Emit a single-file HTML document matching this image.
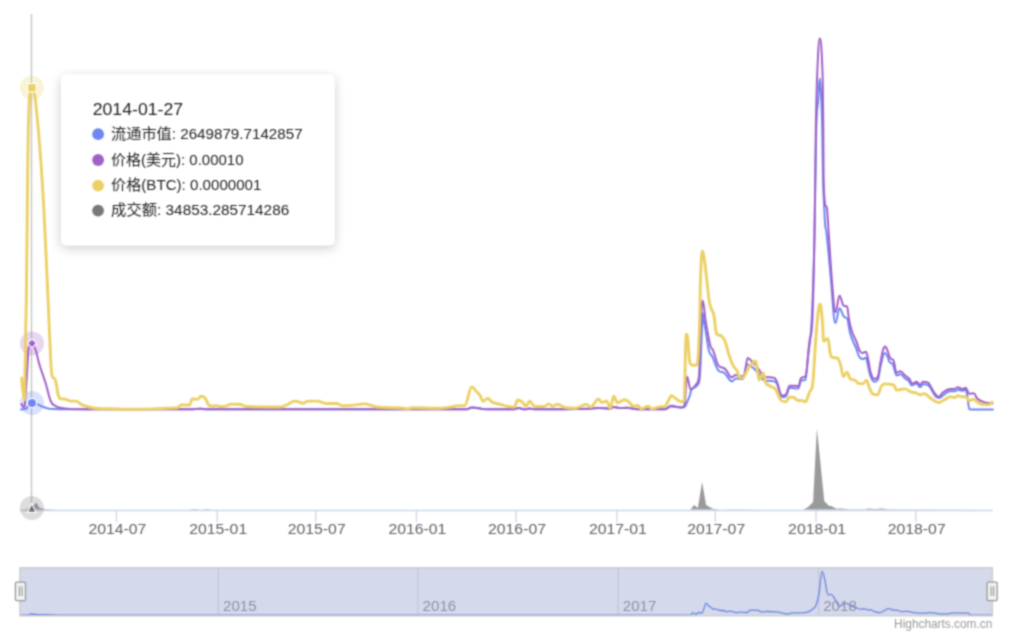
<!DOCTYPE html>
<html><head><meta charset="utf-8"><title>chart</title>
<style>html,body{margin:0;padding:0;background:#fff;overflow:hidden}
svg{display:block;font-family:"Liberation Sans", "Noto Sans CJK SC", sans-serif}
</style></head><body>
<svg width="1009" height="637" viewBox="0 0 1009 637">
<defs><filter id="gb" x="0" y="0" width="1009" height="637" filterUnits="userSpaceOnUse" color-interpolation-filters="sRGB"><feConvolveMatrix order="5" kernelMatrix="0.00023 0.00332 0.00809 0.00332 0.00023 0.00332 0.04785 0.11640 0.04785 0.00332 0.00809 0.11640 0.28313 0.11640 0.00809 0.00332 0.04785 0.11640 0.04785 0.00332 0.00023 0.00332 0.00809 0.00332 0.00023" divisor="1" edgeMode="duplicate" preserveAlpha="false"/></filter>
<filter id="sh" x="-20%" y="-20%" width="140%" height="140%"><feGaussianBlur in="SourceAlpha" stdDeviation="6"/><feOffset dx="0" dy="2.5" result="b"/><feComponentTransfer><feFuncA type="linear" slope="0.2"/></feComponentTransfer><feMerge><feMergeNode/><feMergeNode in="SourceGraphic"/></feMerge></filter></defs>
<g filter="url(#gb)"><rect width="1009" height="637" fill="#fff"/>
<path d="M20 510.5H993" stroke="#ccd6eb" stroke-width="1.3" fill="none"/>
<path d="M116.4 510.5V522.3" stroke="#ccd6eb" stroke-width="1.3"/>
<text x="117.4" y="533.6" text-anchor="middle" font-size="14.6" fill="#606060" textLength="58" lengthAdjust="spacingAndGlyphs">2014-07</text>
<path d="M217.2 510.5V522.3" stroke="#ccd6eb" stroke-width="1.3"/>
<text x="218.2" y="533.6" text-anchor="middle" font-size="14.6" fill="#606060" textLength="58" lengthAdjust="spacingAndGlyphs">2015-01</text>
<path d="M315.7 510.5V522.3" stroke="#ccd6eb" stroke-width="1.3"/>
<text x="316.7" y="533.6" text-anchor="middle" font-size="14.6" fill="#606060" textLength="58" lengthAdjust="spacingAndGlyphs">2015-07</text>
<path d="M416.4 510.5V522.3" stroke="#ccd6eb" stroke-width="1.3"/>
<text x="417.4" y="533.6" text-anchor="middle" font-size="14.6" fill="#606060" textLength="58" lengthAdjust="spacingAndGlyphs">2016-01</text>
<path d="M516.0 510.5V522.3" stroke="#ccd6eb" stroke-width="1.3"/>
<text x="517.0" y="533.6" text-anchor="middle" font-size="14.6" fill="#606060" textLength="58" lengthAdjust="spacingAndGlyphs">2016-07</text>
<path d="M616.9 510.5V522.3" stroke="#ccd6eb" stroke-width="1.3"/>
<text x="617.9" y="533.6" text-anchor="middle" font-size="14.6" fill="#606060" textLength="58" lengthAdjust="spacingAndGlyphs">2017-01</text>
<path d="M715.2 510.5V522.3" stroke="#ccd6eb" stroke-width="1.3"/>
<text x="716.2" y="533.6" text-anchor="middle" font-size="14.6" fill="#606060" textLength="58" lengthAdjust="spacingAndGlyphs">2017-07</text>
<path d="M816.1 510.5V522.3" stroke="#ccd6eb" stroke-width="1.3"/>
<text x="817.1" y="533.6" text-anchor="middle" font-size="14.6" fill="#606060" textLength="58" lengthAdjust="spacingAndGlyphs">2018-01</text>
<path d="M915.7 510.5V522.3" stroke="#ccd6eb" stroke-width="1.3"/>
<text x="916.7" y="533.6" text-anchor="middle" font-size="14.6" fill="#606060" textLength="58" lengthAdjust="spacingAndGlyphs">2018-07</text>
<path d="M31.5 14V510" stroke="#c0c0c0" stroke-width="1.3" fill="none"/>
<path d="M20.0 509.6L25.0 509.2L28.0 508.5L31.7 507.0L33.5 505.5L36.3 502.4L39.3 507.8L45.0 509.0L50.0 509.3L60.0 509.6L188.0 509.6L195.0 509.1L201.0 509.4L207.0 509.1L212.0 509.6L690.4 509.6L694.2 505.1L697.9 508.0L702.1 481.9L706.1 505.1L712.8 508.8L720.0 509.4L736.7 509.2L760.0 509.6L803.4 509.6L807.9 507.3L813.1 502.1L816.9 428.2L824.3 501.3L828.8 505.8L831.8 506.3L836.3 508.8L840.7 508.4L850.0 509.3L865.0 509.3L869.1 508.4L875.0 509.1L882.0 508.5L888.0 509.3L993.0 509.6 L993 509.6 L20 509.6Z" fill="#9a9a9a" stroke="none"/>
<circle cx="32.0" cy="403.0" r="12" fill="#6e86f2" fill-opacity="0.25"/>
<circle cx="32.0" cy="343.4" r="12" fill="#a060c8" fill-opacity="0.25"/>
<circle cx="31.9" cy="87.8" r="12" fill="#ecd064" fill-opacity="0.25"/>
<circle cx="31.9" cy="508" r="12" fill="#787878" fill-opacity="0.25"/>
<path d="M21.0 409.4C21.0 409.4 24.2 409.4 26.3 408.8C26.8 408.2 27.0 407.5 27.5 407.0C29.3 405.2 30.2 403.0 32.0 403.0C32.8 403.0 33.2 403.3 34.0 403.5C35.7 403.9 36.5 404.0 38.2 404.6C40.3 405.4 41.4 406.2 43.5 407.0C45.9 407.9 47.1 408.4 49.5 408.8C53.5 409.2 55.6 409.2 59.6 409.2C63.8 409.2 65.8 409.2 70.0 409.2C82.0 409.2 88.0 409.2 100.0 409.2C124.0 409.2 136.0 409.3 160.0 409.3C172.4 409.3 178.6 409.3 191.0 409.3C194.6 409.3 196.4 408.8 200.0 408.8C202.8 408.8 204.2 409.3 207.0 409.3C311.0 409.3 363.0 409.3 467.0 409.3C468.9 409.3 469.9 407.4 471.8 407.4C473.1 407.4 473.7 407.5 475.0 407.7C477.8 408.1 479.3 408.5 482.1 408.9C494.9 409.3 501.4 409.3 514.2 409.3C515.9 409.3 516.7 408.1 518.4 408.1C521.0 408.1 522.4 409.3 525.0 409.3C526.9 409.3 527.8 408.6 529.7 408.6C531.4 408.6 532.3 409.2 534.0 409.2C556.4 409.2 567.6 409.2 590.0 408.7C593.3 408.6 595.0 407.9 598.3 407.9C603.1 407.9 605.4 408.7 610.2 408.7C611.6 408.7 612.4 406.9 613.8 406.9C616.3 406.9 617.5 408.0 620.0 408.0C622.8 408.0 624.2 407.8 627.0 407.8C631.2 407.8 633.4 409.2 637.6 409.2C648.6 409.2 654.0 409.2 665.0 409.2C667.4 409.2 668.5 406.5 670.9 406.5C675.6 406.5 678.0 407.5 682.7 407.5C683.5 407.5 683.8 407.5 684.6 406.9C685.8 406.3 686.4 403.6 687.6 401.0C688.6 398.9 689.0 398.0 690.0 395.0C690.4 393.6 690.7 390.8 691.1 390.2C693.7 386.7 695.0 388.6 697.6 384.9C698.4 383.7 698.9 384.9 699.7 377.9C700.4 370.9 700.8 356.1 701.5 340.0C701.9 330.2 702.2 313.2 702.6 313.2C703.2 313.2 703.4 318.7 704.0 322.0C704.8 326.7 705.2 328.4 706.0 333.0C707.2 339.7 707.7 346.1 708.9 350.4C710.3 355.6 711.0 353.8 712.4 356.7C715.0 362.0 716.2 368.6 718.8 370.8C721.0 373.0 722.2 371.2 724.4 373.0C727.5 375.5 729.1 381.4 732.2 381.4C733.6 381.4 734.3 378.6 735.7 378.6C738.5 378.6 740.0 379.0 742.8 379.0C744.5 379.0 745.3 364.5 747.0 364.5C749.8 364.5 751.3 366.5 754.1 368.7C755.7 369.9 756.4 371.3 758.0 373.0C761.0 376.1 762.4 380.7 765.4 380.7C767.2 380.7 768.2 380.7 770.0 380.7C771.6 380.7 772.3 380.9 773.9 381.4C774.7 381.7 775.2 381.4 776.0 382.5C778.4 383.6 779.6 397.0 782.0 397.0C783.4 397.0 784.1 397.0 785.5 396.5C787.2 396.0 788.1 387.8 789.8 387.8C793.2 387.8 794.8 388.5 798.2 388.5C799.4 388.5 799.9 381.4 801.1 380.7C802.8 380.0 803.6 380.7 805.3 380.0C806.4 379.3 807.0 365.8 808.1 355.3C809.5 341.8 810.3 347.1 811.7 320.0C812.8 298.9 813.4 282.1 814.5 234.8C815.2 206.1 815.5 154.8 816.2 130.0C817.0 100.9 817.4 111.4 818.2 100.0C818.8 90.9 819.2 78.6 819.8 78.6C820.4 78.6 820.7 87.7 821.3 100.0C821.7 108.2 821.9 112.0 822.3 130.0C822.6 142.6 822.7 164.7 823.0 176.7C823.4 193.8 823.6 193.9 824.0 202.6C824.5 213.9 824.8 221.8 825.3 226.7C825.7 231.6 826.0 227.6 826.4 231.6C828.0 246.6 828.9 257.7 830.5 274.4C832.5 294.3 833.4 323.0 835.4 323.0C837.0 323.0 837.9 308.2 839.5 308.2C841.2 308.2 842.0 314.1 843.7 316.4C845.3 318.7 846.2 316.4 847.8 319.7C848.4 323.0 848.8 327.1 849.4 330.0C850.4 334.6 850.9 335.7 851.9 338.4C853.5 342.9 854.4 344.1 856.0 348.0C857.6 351.8 858.4 356.4 860.0 357.7C861.2 359.0 861.7 359.0 862.9 359.0C864.1 359.0 864.7 357.7 865.9 357.7C866.7 357.7 867.2 362.6 868.0 366.0C869.0 370.2 869.6 373.8 870.6 376.5C872.0 380.1 872.7 381.8 874.1 381.8C875.5 381.8 876.3 381.8 877.7 380.0C878.9 378.2 879.4 370.5 880.6 366.0C882.2 359.7 883.1 353.0 884.7 353.0C885.9 353.0 886.5 354.8 887.7 357.0C888.4 358.3 888.7 360.8 889.4 361.8C890.8 363.9 891.6 362.0 893.0 364.7C894.4 367.4 895.1 375.3 896.5 375.3C898.1 375.3 899.0 374.2 900.6 374.2C902.3 374.2 903.1 376.9 904.8 378.3C906.4 379.6 907.3 379.3 908.9 381.0C910.1 382.2 910.6 385.4 911.8 385.4C913.7 385.4 914.6 383.6 916.5 383.6C917.9 383.6 918.7 387.1 920.1 387.1C921.3 387.1 921.8 384.2 923.0 384.2C924.9 384.2 925.8 384.2 927.7 384.8C928.9 385.4 929.5 386.6 930.7 388.3C933.1 391.6 934.2 396.3 936.6 397.1C937.5 397.9 937.9 397.9 938.8 397.9C940.9 397.9 941.9 395.9 944.0 394.6C946.3 393.2 947.5 391.2 949.8 391.2C951.8 391.2 952.7 391.2 954.7 391.2C956.0 391.2 956.6 389.8 957.9 389.8C959.7 389.8 960.7 390.8 962.5 390.8C963.6 390.8 964.2 389.8 965.3 389.8C966.0 389.8 966.4 391.3 967.1 394.7C968.1 399.2 968.5 409.5 969.5 409.5C978.9 409.5 992.9 409.5 992.9 409.5" stroke="#6e86f2" stroke-width="2.0" fill="none" stroke-linejoin="round" stroke-linecap="round"/>
<path d="M21.5 404.0C21.5 404.0 23.2 407.3 24.3 407.3C24.7 407.3 24.8 404.6 25.2 400.0C26.0 389.7 26.4 382.9 27.2 370.0C27.6 362.9 27.9 356.6 28.3 350.0C29.8 343.4 30.5 343.4 32.0 343.4C33.0 343.4 33.4 345.2 34.4 347.1C35.2 348.6 35.5 349.4 36.3 352.0C37.1 354.6 37.4 357.1 38.2 360.0C39.2 363.6 39.6 365.3 40.6 368.3C41.8 372.0 42.3 373.2 43.5 376.7C44.6 379.9 45.1 381.3 46.2 385.0C47.0 387.9 47.5 390.2 48.3 393.3C49.1 396.4 49.6 398.3 50.4 400.4C51.2 402.5 51.7 403.1 52.5 404.0C53.7 405.3 54.2 405.2 55.4 405.8C56.8 406.6 57.6 407.3 59.0 407.6C63.4 408.6 65.6 408.8 70.0 409.0C82.0 409.2 88.0 409.2 100.0 409.2C124.0 409.3 136.0 409.3 160.0 409.3C172.4 409.3 178.6 409.3 191.0 409.3C194.6 409.3 196.4 408.8 200.0 408.8C202.8 408.8 204.2 409.3 207.0 409.3C311.0 409.3 363.0 409.3 467.0 409.3C468.9 409.3 469.9 407.4 471.8 407.4C473.1 407.4 473.7 407.5 475.0 407.7C477.8 408.1 479.3 408.5 482.1 408.9C494.9 409.3 501.4 409.3 514.2 409.3C515.9 409.3 516.7 408.1 518.4 408.1C521.0 408.1 522.4 409.3 525.0 409.3C526.9 409.3 527.8 408.6 529.7 408.6C531.4 408.6 532.3 409.2 534.0 409.2C556.4 409.2 567.6 409.2 590.0 408.7C593.3 408.6 595.0 407.9 598.3 407.9C603.1 407.9 605.4 408.7 610.2 408.7C611.6 408.7 612.4 406.9 613.8 406.9C616.3 406.9 617.5 408.0 620.0 408.0C622.8 408.0 624.2 407.8 627.0 407.8C631.2 407.8 633.4 409.2 637.6 409.2C648.6 409.2 654.0 409.2 665.0 409.2C667.4 409.2 668.5 405.7 670.9 405.7C675.2 405.7 677.3 407.5 681.6 407.5C682.6 407.5 683.0 407.5 684.0 406.6C684.4 405.7 684.5 405.5 684.9 401.9C685.7 393.5 686.2 376.5 687.0 376.5C688.4 376.5 689.1 389.2 690.5 389.2C692.8 389.2 693.9 387.7 696.2 384.3C697.3 382.6 697.9 384.3 699.0 376.5C699.8 368.7 700.1 335.2 700.9 320.0C701.7 304.8 702.0 300.7 702.8 300.7C703.9 300.7 704.4 313.6 705.5 320.0C707.4 331.4 708.4 337.7 710.3 345.4C711.4 349.9 712.0 347.7 713.1 350.4C715.4 355.9 716.5 363.8 718.8 365.9C720.8 368.0 721.7 366.9 723.7 368.0C724.6 368.5 725.1 368.9 726.0 370.0C728.2 372.6 729.3 377.2 731.5 377.2C733.2 377.2 734.0 375.1 735.7 375.1C737.7 375.1 738.7 376.5 740.7 376.5C742.1 376.5 742.8 376.5 744.2 375.1C745.6 373.7 746.3 358.1 747.7 358.1C749.7 358.1 750.7 360.6 752.7 362.4C754.4 364.0 755.2 364.4 756.9 366.6C759.2 369.5 760.3 372.7 762.6 375.1C764.3 376.9 765.1 377.2 766.8 377.2C768.1 377.2 768.7 377.2 770.0 377.2C771.6 377.2 772.3 377.3 773.9 377.9C774.6 378.2 774.9 377.9 775.6 379.3C778.2 380.7 779.4 395.6 782.0 395.6C783.4 395.6 784.1 395.6 785.5 394.9C787.2 394.2 788.1 385.7 789.8 385.7C791.9 385.7 792.9 385.7 795.0 385.7C796.3 385.7 796.9 386.4 798.2 386.4C799.4 386.4 799.9 379.3 801.1 377.9C802.8 376.5 803.6 377.9 805.3 376.5C807.0 375.1 807.8 354.6 809.5 341.2C810.7 332.0 811.2 341.2 812.4 320.0C813.2 298.8 813.7 281.7 814.5 234.8C815.0 205.7 815.3 160.2 815.8 130.0C816.4 95.1 816.7 85.7 817.3 72.0C818.3 49.2 818.8 38.6 819.8 38.6C820.9 38.6 821.4 43.8 822.5 72.0C822.8 80.4 823.0 99.5 823.3 130.0C823.4 141.4 823.5 170.9 823.6 176.7C824.1 199.9 824.3 195.7 824.8 202.6C825.7 209.5 826.2 202.6 827.1 209.5C827.8 216.4 828.1 224.8 828.8 234.8C830.1 254.1 830.8 267.2 832.1 282.7C833.4 298.2 834.1 312.3 835.4 312.3C837.0 312.3 837.9 295.8 839.5 295.8C841.2 295.8 842.0 304.9 843.7 305.7C845.0 306.5 845.7 305.7 847.0 306.5C847.8 307.3 848.3 315.7 849.1 320.0C850.2 325.7 850.8 328.0 851.9 331.3C853.6 336.4 854.5 337.0 856.2 341.2C857.7 344.9 858.5 349.4 860.0 351.2C861.2 353.0 861.7 353.0 862.9 353.0C864.1 353.0 864.7 351.8 865.9 351.8C866.8 351.8 867.3 355.4 868.2 359.4C869.2 363.6 869.6 369.2 870.6 372.4C872.0 377.0 872.7 378.9 874.1 378.9C875.5 378.9 876.3 378.9 877.7 377.1C878.9 375.3 879.4 367.7 880.6 361.8C881.6 356.9 882.0 353.1 883.0 350.0C883.9 347.0 884.4 346.5 885.3 346.5C886.3 346.5 886.7 348.9 887.7 351.2C888.6 353.4 889.1 356.2 890.0 357.7C891.4 360.0 892.2 357.7 893.6 360.6C894.8 363.5 895.3 372.4 896.5 372.4C898.1 372.4 899.0 371.2 900.6 371.2C902.3 371.2 903.1 373.9 904.8 375.3C906.4 376.7 907.3 376.5 908.9 378.3C910.3 379.8 911.0 383.6 912.4 383.6C914.0 383.6 914.9 381.8 916.5 381.8C917.9 381.8 918.7 384.8 920.1 384.8C921.3 384.8 921.8 381.8 923.0 381.8C924.9 381.8 925.8 381.8 927.7 382.4C928.9 383.0 929.5 384.6 930.7 386.5C932.1 388.7 932.8 390.8 934.2 392.6C936.0 394.9 937.0 396.8 938.8 396.8C940.4 396.8 941.1 393.7 942.7 392.6C945.5 390.6 947.0 389.5 949.8 389.1C951.8 388.7 952.7 389.1 954.7 388.7C956.0 388.3 956.6 387.3 957.9 387.3C959.7 387.3 960.7 389.1 962.5 389.1C963.8 389.1 964.4 387.7 965.7 387.7C967.1 387.7 967.8 393.7 969.2 393.7C971.0 393.7 972.0 393.3 973.8 393.3C975.2 393.3 975.9 397.5 977.3 398.6C980.4 401.1 982.0 401.3 985.1 402.5C986.8 403.1 987.6 403.0 989.3 403.2C990.6 403.4 992.5 403.5 992.5 403.5" stroke="#a060c8" stroke-width="2.0" fill="none" stroke-linejoin="round" stroke-linecap="round"/>
<path d="M21.6 378.0C21.6 378.0 23.3 400.0 24.5 400.0C24.7 400.0 24.8 381.1 25.0 370.0C25.5 341.1 25.8 333.4 26.3 300.0C26.5 284.6 26.7 270.3 26.9 248.0C27.2 221.9 27.3 203.3 27.6 179.0C27.8 158.1 28.0 148.2 28.2 135.0C28.4 121.8 28.6 119.7 28.8 113.0C29.1 104.1 29.3 98.6 29.6 96.0C30.5 88.5 31.0 87.8 31.9 87.8C33.0 87.8 33.5 88.3 34.6 94.0C35.5 98.7 35.9 105.2 36.8 113.8C37.6 121.6 38.0 125.4 38.8 135.0C39.8 146.5 40.2 152.7 41.2 166.4C42.0 177.8 42.4 183.7 43.2 197.8C44.0 211.2 44.3 219.2 45.1 235.0C46.2 258.4 46.8 270.8 47.9 295.8C49.0 320.8 49.6 337.7 50.7 360.0C51.2 369.6 51.4 370.8 51.9 375.5C53.3 380.2 54.0 375.8 55.4 380.2C56.6 383.9 57.2 391.1 58.4 395.7C59.1 398.5 59.5 397.9 60.2 398.6C62.6 399.3 63.7 398.7 66.1 399.3C68.0 399.7 69.0 401.1 70.9 401.1C72.8 401.1 73.7 401.1 75.6 401.1C78.0 401.1 79.2 403.5 81.6 404.6C84.4 405.9 85.9 406.3 88.7 407.0C92.5 407.9 94.4 408.2 98.2 408.5C102.9 408.8 105.3 408.7 110.0 408.8C118.0 409.0 122.0 409.2 130.0 409.2C139.5 409.2 144.3 409.2 153.8 408.9C158.6 408.8 160.9 408.4 165.7 408.2C170.5 408.0 172.8 408.2 177.6 407.8C179.0 407.4 179.7 405.0 181.1 405.0C184.5 405.0 186.1 405.0 189.5 405.0C190.7 405.0 191.2 398.7 192.4 398.7C194.3 398.7 195.3 399.4 197.2 399.4C198.8 399.4 199.7 396.3 201.3 396.3C202.7 396.3 203.5 396.3 204.9 397.9C206.6 399.5 207.4 404.6 209.1 405.4C210.7 406.2 211.6 406.2 213.2 406.2C214.6 406.2 215.4 405.6 216.8 405.6C218.2 405.6 219.0 406.6 220.4 406.6C223.2 406.6 224.7 406.3 227.5 405.6C228.9 405.3 229.7 404.1 231.1 404.1C234.4 404.1 236.1 404.1 239.4 404.2C241.8 404.3 242.9 405.6 245.3 406.2C249.9 406.8 252.3 406.6 256.9 406.8C266.4 407.0 271.2 407.0 280.7 407.0C283.1 407.0 284.2 406.0 286.6 405.0C290.0 403.6 291.6 401.1 295.0 401.1C298.3 401.1 300.0 403.2 303.3 403.2C305.2 403.2 306.1 401.1 308.0 401.1C311.8 401.1 313.7 401.1 317.5 401.1C320.9 401.1 322.5 403.5 325.9 403.5C330.2 403.5 332.3 403.5 336.6 403.5C339.0 403.5 340.1 405.8 342.5 405.8C346.3 405.8 348.2 405.7 352.0 405.4C354.8 405.2 356.3 404.7 359.1 404.4C361.4 404.1 362.5 403.9 364.8 403.9C366.7 403.9 367.6 404.3 369.5 404.8C371.9 405.5 373.1 406.3 375.5 406.8C378.8 407.4 380.5 407.3 383.8 407.5C390.9 407.8 394.5 407.6 401.6 408.0C404.0 408.1 405.2 408.9 407.6 408.9C409.5 408.9 410.4 407.7 412.3 407.7C422.3 407.7 427.3 408.3 437.3 408.3C443.5 408.3 446.5 407.6 452.7 406.8C454.6 406.5 455.6 405.6 457.5 405.6C460.3 405.6 461.8 405.6 464.6 405.6C467.5 405.6 468.9 386.9 471.8 386.9C473.7 386.9 474.6 389.7 476.5 391.7C477.8 393.1 478.5 393.4 479.8 395.2C481.2 397.2 481.9 401.2 483.3 401.2C485.0 401.2 485.8 398.5 487.5 398.5C489.6 398.5 490.7 401.5 492.8 402.4C496.6 404.0 498.5 403.8 502.3 404.8C504.2 405.3 505.2 405.9 507.1 406.3C509.9 406.8 511.4 407.1 514.2 407.1C515.6 407.1 516.4 400.0 517.8 400.0C519.5 400.0 520.3 400.6 522.0 401.8C523.6 403.0 524.5 406.0 526.1 406.0C527.5 406.0 528.3 401.2 529.7 401.2C531.6 401.2 532.6 406.0 534.5 406.3C538.3 406.6 540.2 406.6 544.0 406.6C545.9 406.6 546.8 403.9 548.7 403.9C550.4 403.9 551.2 406.3 552.9 406.3C554.5 406.3 555.4 404.2 557.0 404.2C558.9 404.2 559.9 405.2 561.8 406.0C563.2 406.6 564.0 407.2 565.4 407.5C569.2 408.2 571.1 408.3 574.9 408.3C576.8 408.3 577.7 407.4 579.6 406.8C582.2 405.9 583.6 404.4 586.2 404.4C588.1 404.4 589.0 407.1 590.9 407.1C592.5 407.1 593.2 404.4 594.8 402.7C596.2 401.1 596.9 398.9 598.3 398.9C599.7 398.9 600.5 402.5 601.9 402.5C603.8 402.5 604.7 401.0 606.6 401.0C608.0 401.0 608.8 408.1 610.2 408.1C611.6 408.1 612.4 396.2 613.8 396.2C615.2 396.2 615.9 402.7 617.3 402.7C620.2 402.7 621.6 399.8 624.5 399.8C625.9 399.8 626.6 400.3 628.0 401.3C630.4 402.9 631.6 406.3 634.0 406.3C635.4 406.3 636.2 405.4 637.6 405.4C639.0 405.4 639.7 408.7 641.1 408.7C644.0 408.7 645.4 406.3 648.3 406.3C649.7 406.3 650.4 408.9 651.8 408.9C654.7 408.9 656.1 407.5 659.0 406.9C661.4 406.4 662.5 406.9 664.9 406.3C666.1 405.7 666.8 403.6 668.0 401.6C669.4 399.3 670.1 395.6 671.5 395.6C673.2 395.6 674.0 397.6 675.7 398.6C678.1 400.0 679.2 401.8 681.6 401.8C682.6 401.8 683.0 401.8 684.0 400.8C684.9 399.8 685.4 334.1 686.3 334.1C686.9 334.1 687.1 334.1 687.7 338.4C688.5 342.7 689.0 359.6 689.8 362.4C691.0 365.2 691.5 365.2 692.7 365.2C694.1 365.2 694.8 365.2 696.2 365.2C697.0 365.2 697.5 365.2 698.3 355.3C698.9 345.4 699.1 339.4 699.7 320.0C700.0 310.3 700.1 290.1 700.4 282.4C701.1 262.6 701.5 251.3 702.2 251.3C703.2 251.3 703.6 254.7 704.6 261.2C705.9 270.2 706.6 278.8 707.9 290.0C708.5 295.4 708.9 299.1 709.5 302.6C710.2 306.6 710.6 306.8 711.3 308.8C712.3 311.8 712.9 310.1 713.9 315.1C714.6 318.6 715.0 324.7 715.7 330.0C716.0 332.3 716.2 332.0 716.5 334.1C718.5 336.2 719.6 334.5 721.6 336.2C723.0 337.4 723.7 337.7 725.1 341.2C726.5 344.8 727.3 349.5 728.7 353.9C730.4 359.1 731.2 361.8 732.9 365.2C734.6 368.6 735.4 367.7 737.1 370.8C738.0 372.5 738.4 376.5 739.3 377.2C740.7 377.9 741.4 377.9 742.8 377.9C743.9 377.9 744.5 375.7 745.6 373.7C746.7 371.7 747.3 369.7 748.4 368.0C749.8 365.8 750.6 365.2 752.0 363.8C753.4 362.4 754.1 361.0 755.5 361.0C756.1 361.0 756.3 363.6 756.9 366.6C757.7 371.2 758.2 380.0 759.0 380.0C759.9 380.0 760.3 377.9 761.2 376.5C762.0 375.1 762.5 373.0 763.3 373.0C764.1 373.0 764.6 380.0 765.4 382.1C766.5 384.8 767.1 384.2 768.2 385.0C770.5 386.5 771.6 386.5 773.9 387.8C774.6 388.2 774.9 388.0 775.6 389.2C777.9 393.1 779.0 399.1 781.3 400.5C783.0 401.9 783.8 401.9 785.5 401.9C787.2 401.9 788.1 397.0 789.8 397.0C791.5 397.0 792.3 397.0 794.0 397.7C795.7 398.4 796.5 400.5 798.2 400.5C799.7 400.5 800.5 400.5 802.0 400.5C803.3 400.5 804.0 401.9 805.3 401.9C807.0 401.9 807.8 395.7 809.5 392.0C810.7 389.5 811.2 392.0 812.4 386.4C813.5 380.8 814.1 363.4 815.2 348.2C816.0 336.8 816.5 327.6 817.3 320.0C818.4 309.9 819.0 304.1 820.1 304.1C821.0 304.1 821.4 310.9 822.3 320.0C822.9 325.8 823.1 341.2 823.7 341.2C825.4 341.2 826.2 338.4 827.9 338.4C829.0 338.4 829.6 353.2 830.7 355.3C831.3 357.4 831.5 356.7 832.1 357.4C834.4 358.1 835.5 357.4 837.8 358.1C838.9 358.8 839.5 361.5 840.6 365.2C841.7 368.9 842.3 376.5 843.4 376.5C844.8 376.5 845.6 372.3 847.0 372.3C848.4 372.3 849.1 378.6 850.5 379.3C852.2 380.0 853.0 379.3 854.7 380.0C856.4 380.7 857.3 383.6 859.0 383.6C860.7 383.6 861.5 383.6 863.2 383.6C864.5 383.6 865.2 380.1 866.5 380.1C867.7 380.1 868.2 385.2 869.4 387.7C870.8 390.8 871.6 393.6 873.0 394.2C874.9 394.8 875.8 394.8 877.7 394.8C879.1 394.8 879.8 388.7 881.2 386.5C882.6 384.3 883.3 383.9 884.7 383.9C887.1 383.9 888.2 384.0 890.6 384.4C892.0 384.6 892.8 384.4 894.2 385.4C895.1 386.4 895.6 390.1 896.5 390.1C899.8 390.1 901.5 388.9 904.8 388.9C907.1 388.9 908.3 391.0 910.6 391.8C913.0 392.6 914.1 392.3 916.5 393.0C917.9 393.5 918.7 394.8 920.1 394.8C921.7 394.8 922.6 393.6 924.2 393.6C926.8 393.6 928.1 396.7 930.7 398.3C933.9 400.3 935.6 402.5 938.8 402.5C940.9 402.5 942.0 401.0 944.1 400.0C946.7 398.8 947.9 396.8 950.5 396.8C952.2 396.8 953.0 397.5 954.7 397.5C956.1 397.5 956.8 395.8 958.2 395.8C959.9 395.8 960.8 396.8 962.5 396.8C963.8 396.8 964.4 396.8 965.7 396.8C967.1 396.8 967.8 400.7 969.2 400.7C970.9 400.7 971.7 399.3 973.4 399.3C975.2 399.3 976.2 401.6 978.0 402.5C980.3 403.7 981.4 404.6 983.7 404.6C985.9 404.6 987.1 404.6 989.3 404.6C990.4 404.6 992.1 402.1 992.1 402.1" stroke="#ecd064" stroke-width="2.9" fill="none" stroke-linejoin="round" stroke-linecap="round"/>
<circle cx="32.0" cy="403.0" r="4.6" fill="#6e86f2" stroke="#fff" stroke-width="1.2"/>
<path d="M32 338.8L36.6 343.4L32 348L27.4 343.4Z" fill="#a060c8" stroke="#fff" stroke-width="1.2"/>
<rect x="27.6" y="83.5" width="8.6" height="8.6" fill="#ecd064" stroke="#fff" stroke-width="1.2"/>
<path d="M31.8 503.6L36.2 512.4L27.4 512.4Z" fill="#6e6e6e" stroke="#fff" stroke-width="1.2"/>
<rect x="19.9" y="567.5" width="972.5" height="48.2" fill="#fff"/>
<path d="M218.4 567.5V615.7" stroke="#e6e6e6" stroke-width="1.3"/>
<path d="M418.0 567.5V615.7" stroke="#e6e6e6" stroke-width="1.3"/>
<path d="M618.2 567.5V615.7" stroke="#e6e6e6" stroke-width="1.3"/>
<path d="M818.6 567.5V615.7" stroke="#e6e6e6" stroke-width="1.3"/>
<path d="M20.0 615.2C20.0 615.2 24.8 615.2 28.0 615.0C29.4 614.8 30.1 614.0 31.5 614.0C34.9 614.0 36.6 614.5 40.0 614.6C48.0 614.9 52.0 615.1 60.0 615.1C308.0 615.1 432.0 615.1 680.0 615.1C684.4 615.1 686.6 615.1 691.0 614.8C691.7 614.5 692.1 612.6 692.8 612.6C693.9 612.6 694.4 614.1 695.5 614.1C696.9 614.1 697.6 612.6 699.0 612.6C700.2 612.6 700.8 612.9 702.0 612.9C702.7 612.9 703.1 610.7 703.8 609.0C704.8 606.8 705.2 603.1 706.2 603.1C707.1 603.1 707.6 604.9 708.5 605.8C709.2 606.5 709.6 606.4 710.3 606.9C711.3 607.6 711.7 608.7 712.7 609.0C714.4 609.3 715.2 609.0 716.9 609.3C718.3 609.6 719.0 610.5 720.4 610.5C721.6 610.5 722.2 610.5 723.4 610.5C724.6 610.5 725.2 611.7 726.4 611.7C727.8 611.7 728.5 611.1 729.9 611.1C732.5 611.1 733.9 612.6 736.5 612.6C737.9 612.6 738.6 612.2 740.0 612.2C742.8 612.2 744.1 612.5 746.9 612.5C748.6 612.5 749.4 610.1 751.1 610.1C753.9 610.1 755.2 610.1 758.0 610.4C759.4 610.7 760.1 611.9 761.5 611.9C764.0 611.9 765.3 611.5 767.8 611.5C771.1 611.5 772.8 611.6 776.1 611.9C778.3 612.1 779.4 612.5 781.6 612.9C783.8 613.3 785.0 614.0 787.2 614.0C789.4 614.0 790.5 612.9 792.7 612.9C796.1 612.9 797.7 612.9 801.1 612.9C803.9 612.9 805.2 612.8 808.0 611.9C809.7 611.4 810.5 610.8 812.2 609.4C813.7 608.1 814.5 609.0 816.0 605.3C817.2 602.3 817.9 599.7 819.1 592.8C820.3 586.1 820.9 571.3 822.1 571.3C823.1 571.3 823.6 575.0 824.6 578.9C826.0 584.4 826.7 594.9 828.1 594.9C829.2 594.9 829.8 594.4 830.9 594.4C832.8 594.4 833.8 597.6 835.7 600.4C837.1 602.4 837.8 606.4 839.2 606.4C841.7 606.4 843.0 603.2 845.5 603.2C847.7 603.2 848.8 605.0 851.0 606.0C852.7 606.7 853.5 606.8 855.2 607.4C857.4 608.1 858.5 609.2 860.7 609.2C862.4 609.2 863.2 608.8 864.9 608.8C866.3 608.8 866.9 610.1 868.3 610.1C869.0 610.1 869.3 609.6 870.0 609.6C871.6 609.6 872.3 610.8 873.9 611.3C876.5 612.0 877.7 612.6 880.3 612.6C881.9 612.6 882.6 611.3 884.2 610.6C886.0 609.8 886.9 608.7 888.7 608.7C890.5 608.7 891.4 609.7 893.2 610.0C895.0 610.3 895.9 610.1 897.7 610.4C899.5 610.7 900.4 611.6 902.2 611.6C904.3 611.6 905.3 611.3 907.4 611.3C910.0 611.3 911.2 612.3 913.8 612.6C917.9 613.1 920.0 613.2 924.1 613.2C926.7 613.2 928.0 612.6 930.6 612.6C934.2 612.6 936.0 613.8 939.6 613.8C942.7 613.8 944.2 613.8 947.3 613.8C949.9 613.8 951.2 612.9 953.8 612.9C956.4 612.9 957.6 613.2 960.2 613.2C963.6 613.2 965.2 613.2 968.6 613.2C969.4 613.2 969.7 615.2 970.5 615.2C979.3 615.2 992.4 615.2 992.4 615.2" stroke="#6e86f2" stroke-width="1.3" fill="none" stroke-linejoin="round"/>
<text x="223.0" y="611.4" font-size="14.6" fill="#999" textLength="33.6" lengthAdjust="spacingAndGlyphs">2015</text>
<text x="422.6" y="611.4" font-size="14.6" fill="#999" textLength="33.6" lengthAdjust="spacingAndGlyphs">2016</text>
<text x="622.8" y="611.4" font-size="14.6" fill="#999" textLength="33.6" lengthAdjust="spacingAndGlyphs">2017</text>
<text x="823.2" y="611.4" font-size="14.6" fill="#999" textLength="33.6" lengthAdjust="spacingAndGlyphs">2018</text>
<rect x="19.9" y="567.5" width="972.5" height="48.2" fill="rgba(112,128,188,0.3)"/>
<rect x="19.9" y="567.8" width="972.5" height="48" fill="none" stroke="#cccccc" stroke-width="1.4"/>
<rect x="15.4" y="582.1" width="10.1" height="18.5" rx="1" fill="#f2f2f2" stroke="#999" stroke-width="1.3"/>
<path d="M19.4 586.3V596M21.9 586.3V596" stroke="#8a8a8a" stroke-width="1"/>
<rect x="987.1" y="582.1" width="10.1" height="18.5" rx="1" fill="#f2f2f2" stroke="#999" stroke-width="1.3"/>
<path d="M991.1 586.3V596M993.6 586.3V596" stroke="#8a8a8a" stroke-width="1"/>
<text x="894.1" y="627.6" font-size="12.2" fill="#999" textLength="98.2" lengthAdjust="spacingAndGlyphs">Highcharts.com.cn</text>
<g filter="url(#sh)"><rect x="61" y="74.5" width="273.5" height="170.8" rx="5" fill="#fff"/></g>
<text x="92.7" y="114.6" font-size="16.8" fill="#1e1e1e" textLength="90.4" lengthAdjust="spacingAndGlyphs">2014-01-27</text>
<circle cx="98.1" cy="134.2" r="5.9" fill="#6e86f2"/>
<text x="111.1" y="138.8" font-size="14.4" fill="#222" textLength="191.5" lengthAdjust="spacingAndGlyphs">流通市值: 2649879.7142857</text>
<circle cx="98.1" cy="160.0" r="5.9" fill="#a060c8"/>
<text x="111.1" y="164.6" font-size="14.4" fill="#222" textLength="132.4" lengthAdjust="spacingAndGlyphs">价格(美元): 0.00010</text>
<circle cx="98.1" cy="185.6" r="5.9" fill="#ecd064"/>
<text x="111.1" y="190.2" font-size="14.4" fill="#222" textLength="150.3" lengthAdjust="spacingAndGlyphs">价格(BTC): 0.0000001</text>
<circle cx="98.1" cy="210.6" r="5.9" fill="#787878"/>
<text x="111.1" y="215.2" font-size="14.4" fill="#222" textLength="178.1" lengthAdjust="spacingAndGlyphs">成交额: 34853.285714286</text>
</g></svg>
</body></html>
